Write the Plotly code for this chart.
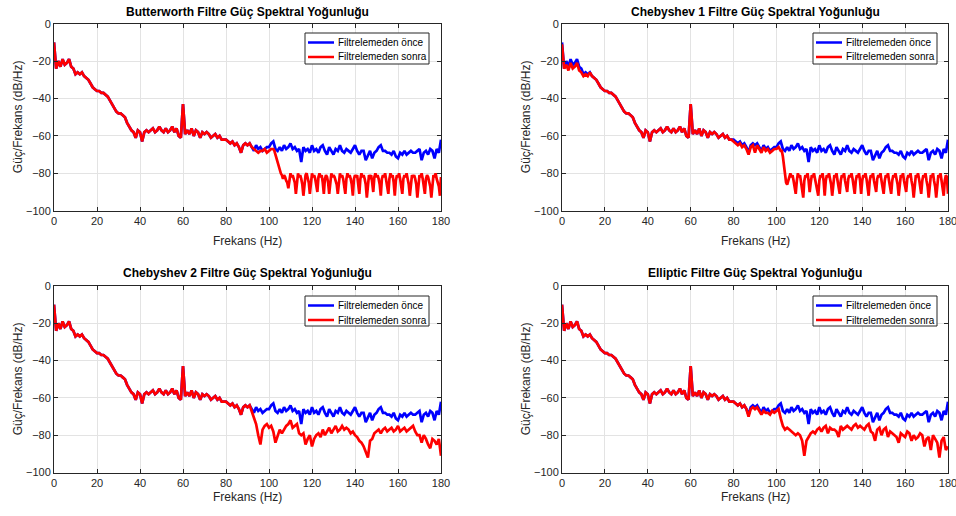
import numpy as np
import plotly.graph_objects as go

# ---------------- data ----------------
freq = list(range(0, 181))  # Hz, 1 Hz grid

psd_before = [
    -10, -24, -20, -23, -19, -22, -21, -19, -23, -24,
    -27, -26, -27, -26, -28, -29, -30, -32, -34, -35,
    -36, -36, -37, -37, -38, -39, -41, -43, -45, -47,
    -48, -48, -49, -50, -53, -55, -57, -58, -61, -57,
    -58, -63, -58, -57, -58, -57, -56, -58, -57, -55,
    -57, -58, -56, -58, -57, -55, -58, -56, -60, -61,
    -43, -59, -57, -59, -56, -60, -57, -58, -61, -58,
    -59, -58, -59, -61, -60, -59, -61, -60, -62, -62,
    -62, -63, -64, -63, -65, -64, -66, -69, -65, -64,
    -65, -64, -66, -68, -65, -67, -66, -68, -67, -66,
    -66, -64, -63, -67, -68, -66, -68, -65, -67, -66,
    -64, -67, -66, -68, -67, -74, -66, -68, -67, -69,
    -65, -68, -67, -69, -66, -65, -68, -70, -66, -68,
    -70, -67, -68, -65, -68, -69, -67, -68, -69, -67,
    -65, -68, -70, -68, -68, -73, -70, -68, -72, -69,
    -68, -66, -65, -68, -68, -69, -69, -70, -68, -71,
    -72, -69, -70, -68, -70, -69, -68, -69, -69, -68,
    -67, -73, -69, -68, -70, -67, -68, -72, -67, -69, -62,
]

# Butterworth: after filtering, 93..102 Hz (1 Hz) then 102.5..180 Hz (0.5 Hz)
butter_mid = [-67, -68, -69, -68, -68, -67, -69, -68, -67, -67]
butter_stop = [
    -68, -70, -72, -75, -77, -79, -80, -81, -83, -81, -82, -84, -85,
    -88, -83, -80, -82, -81, -83, -85,
    -91, -83, -80, -82, -81, -83, -86,
    -92, -84, -81, -80, -83, -85,
    -91, -83, -80, -82, -81, -83, -86,
    -90, -82, -80, -82, -81, -85,
    -91, -83, -81, -82, -85,
    -91, -83, -80, -82, -81, -82, -84, -86,
    -91, -83, -80, -82, -81, -83, -86,
    -91, -83, -80, -82, -81, -83, -86,
    -92, -83, -81, -82, -81, -85,
    -91, -83, -80, -82, -81, -83, -86,
    -93, -84, -81, -82, -81, -85,
    -90, -82, -80, -82, -81, -83, -86,
    -92, -83, -81, -82, -80, -83, -86,
    -91, -83, -80, -82, -81, -85,
    -92, -84, -81, -82, -80, -83, -86,
    -91, -83, -81, -82, -80, -83, -86,
    -92, -84, -81, -82, -81, -83, -86,
    -93, -84, -81, -82, -80, -83, -86,
    -91, -83, -81, -82, -84, -87,
    -93, -84, -81, -82, -80, -83, -85, -87,
    -92, -82,
]

# Chebyshev 1: after filtering
cheby1_low = [-11, -24, -22, -25, -21, -24, -23, -21, -25, -26, -28, -27, -28]   # 0..12 Hz
cheby1_mid = [-63, -64, -65, -64, -66, -65, -67, -70, -66, -65, -69, -65,
              -67, -69, -66, -68, -67, -69, -68, -67, -67, -66, -68]              # 80..102 Hz
cheby1_stop = [                                                                  # 102.5..180 Hz
    -68, -71, -75, -80, -85, -86, -84, -81, -80, -82, -81, -84, -87,
    -91, -84, -80, -82, -81, -85, -88,
    -93, -84, -81, -82, -80, -84,
    -90, -85, -81, -82, -80, -83, -86, -89,
    -92, -84, -81, -82, -80, -84,
    -92, -84, -81, -82, -80, -83, -86,
    -92, -84, -81, -82, -80, -84, -87,
    -91, -84, -81, -82, -80, -84, -87,
    -90, -83, -81, -82, -80, -83, -86,
    -91, -84, -81, -82, -80, -84,
    -91, -84, -81, -82, -80, -83, -87,
    -92, -84, -81, -82, -80, -84, -87,
    -90, -83, -81, -82, -80, -84, -87,
    -91, -84, -81, -82, -80, -84, -87,
    -91, -84, -81, -82, -80, -83, -86,
    -92, -84, -81, -82, -80, -84, -87,
    -90, -83, -81, -82, -80, -84, -87,
    -93, -84, -81, -82, -80, -83, -87,
    -91, -84, -81, -82, -80, -84, -87,
    -93, -84, -81, -82, -80, -84, -87,
    -93, -84, -81, -82, -80, -84, -87,
    -92, -84, -81, -82, -91,
]

# Chebyshev 2: after filtering, 92..180 Hz (1 Hz)
cheby2_stop = [
    -67, -70, -74, -80, -85, -77, -75, -74, -76, -75,
    -78, -84, -80, -77, -79, -77, -75, -74, -72, -76,
    -75, -74, -79, -80, -79, -85, -82, -80, -86, -82,
    -80, -79, -81, -77, -80, -78, -76, -79, -77, -75,
    -78, -77, -75, -77, -76, -77, -79, -78, -80, -81,
    -83, -84, -86, -89, -92, -83, -82, -79, -78, -77,
    -79, -77, -76, -78, -77, -76, -78, -77, -75, -78,
    -77, -76, -78, -77, -76, -75, -78, -80, -80, -84,
    -80, -82, -85, -87, -82, -83, -85, -82, -91,
]

# Elliptic: after filtering, 87..100 Hz then 101..180 Hz (1 Hz)
ellip_mid = [-70, -66, -65, -66, -65, -67, -69, -67, -68, -68, -69, -67, -68, -67]
ellip_stop = [
    -66, -71, -75, -77, -76, -77, -78, -79, -80, -79,
    -80, -83, -91, -83, -81, -79, -78, -79, -77, -76,
    -78, -76, -75, -79, -76, -77, -77, -78, -81, -75,
    -77, -76, -75, -76, -77, -75, -74, -76, -75, -76,
    -77, -75, -74, -78, -79, -83, -77, -76, -80, -77,
    -76, -81, -78, -79, -80, -81, -84, -79, -80, -81,
    -78, -79, -83, -80, -82, -81, -79, -80, -86, -82,
    -81, -88, -80, -82, -84, -92, -83, -81, -88, -86,
]

titles = [
    "Butterworth Filtre Güç Spektral Yoğunluğu",
    "Chebyshev 1 Filtre Güç Spektral Yoğunluğu",
    "Chebyshev 2 Filtre Güç Spektral Yoğunluğu",
    "Elliptic Filtre Güç Spektral Yoğunluğu",
]
legend_labels = ["Filtrelemeden önce", "Filtrelemeden sonra"]
x_label = "Frekans (Hz)"
y_label = "Güç/Frekans (dB/Hz)"

# ---------------- assemble the "after" series ----------------
def grid(a, b, n):
    return list(np.linspace(a, b, n))

butter_x = freq[:93] + list(range(93, 103)) + grid(102.5, 180, len(butter_stop))
butter_y = psd_before[:93] + butter_mid + butter_stop

cheby1_x = (list(range(0, 13)) + freq[13:80] + list(range(80, 103))
            + grid(102.5, 180, len(cheby1_stop)))
cheby1_y = cheby1_low + psd_before[13:80] + cheby1_mid + cheby1_stop

cheby2_x = freq[:92] + grid(92, 180, len(cheby2_stop))
cheby2_y = psd_before[:92] + cheby2_stop

ellip_x = freq[:87] + list(range(87, 101)) + grid(101, 180, len(ellip_stop))
ellip_y = psd_before[:87] + ellip_mid + ellip_stop

after_series = [(butter_x, butter_y), (cheby1_x, cheby1_y),
                (cheby2_x, cheby2_y), (ellip_x, ellip_y)]

# ---------------- layout geometry ----------------
W, H = 956, 516
xdoms = [[54 / W, 441 / W], [562 / W, 948 / W]]
ydoms = [[1 - 210.7 / H, 1 - 23.7 / H], [1 - 472.5 / H, 1 - 286 / H]]
title_y = [12, 273]
xlab_y = [241, 497]
ylab_x = [18, 526]
leg_box_x = [[305, 429], [813, 937]]
leg_box_y = [[33, 64], [296, 326]]

AX = "#262626"
FONT = "Arial, Liberation Sans, Helvetica, sans-serif"
BLUE, RED = "#0000FF", "#FF0000"
LW = 2.7

fig = go.Figure()
layout = dict(
    width=W, height=H, margin=dict(l=0, r=0, t=0, b=0),
    paper_bgcolor="white", plot_bgcolor="white", showlegend=False,
    font=dict(family=FONT, color=AX), annotations=[], shapes=[],
)

def px(x):
    return x / W

def py(y):
    return 1 - y / H

for i in range(4):
    row, col = divmod(i, 2)
    n = "" if i == 0 else str(i + 1)
    xa, ya = "x" + n, "y" + n
    fig.add_trace(go.Scatter(x=freq, y=psd_before, mode="lines", name=legend_labels[0],
                             line=dict(color=BLUE, width=LW), xaxis=xa, yaxis=ya))
    ax_x, ax_y = after_series[i]
    fig.add_trace(go.Scatter(x=ax_x, y=ax_y, mode="lines", name=legend_labels[1],
                             line=dict(color=RED, width=LW), xaxis=xa, yaxis=ya))
    common = dict(showgrid=True, gridcolor="#e3e3e3", gridwidth=1, zeroline=False,
                  showline=True, linecolor=AX, linewidth=1, mirror="ticks",
                  ticks="inside", ticklen=4, tickcolor=AX, ticklabeloverflow="allow",
                  tickfont=dict(size=11, color=AX, family=FONT), automargin=False)
    layout["xaxis" + n] = dict(common, domain=xdoms[col], anchor=ya, range=[0, 180],
                               tick0=0, dtick=20)
    layout["yaxis" + n] = dict(common, domain=ydoms[row], anchor=xa, range=[-100, 0],
                               tick0=0, dtick=20)
    cx = (xdoms[col][0] + xdoms[col][1]) / 2
    cy = (ydoms[row][0] + ydoms[row][1]) / 2
    layout["annotations"] += [
        dict(text=titles[i], x=cx, y=py(title_y[row]), xref="paper", yref="paper",
             showarrow=False, xanchor="center", yanchor="middle",
             font=dict(size=12, color="black", family=FONT, weight="bold")),
        dict(text=x_label, x=cx, y=py(xlab_y[row]), xref="paper", yref="paper",
             showarrow=False, xanchor="center", yanchor="middle",
             font=dict(size=12, color=AX, family=FONT)),
        dict(text=y_label, x=px(ylab_x[col]), y=cy, xref="paper", yref="paper",
             showarrow=False, xanchor="center", yanchor="middle", textangle=-90,
             font=dict(size=12, color=AX, family=FONT)),
    ]
    # legend box (drawn manually for MATLAB-like compactness)
    bx0, bx1 = leg_box_x[col]
    by0, by1 = leg_box_y[row]
    layout["shapes"].append(dict(type="rect", xref="paper", yref="paper",
                                 x0=px(bx0), x1=px(bx1), y0=py(by1), y1=py(by0),
                                 fillcolor="white", line=dict(color=AX, width=1),
                                 layer="above"))
    for k, (lab, colr) in enumerate(zip(legend_labels, [BLUE, RED])):
        ly = by0 + 9.5 + k * 14.5
        layout["shapes"].append(dict(type="line", xref="paper", yref="paper",
                                     x0=px(bx0 + 3), x1=px(bx0 + 29), y0=py(ly), y1=py(ly),
                                     line=dict(color=colr, width=2.5), layer="above"))
        layout["annotations"].append(dict(text=lab, x=px(bx0 + 31), y=py(ly),
                                          xref="paper", yref="paper", showarrow=False,
                                          xanchor="left", yanchor="middle",
                                          font=dict(size=10, color="black", family=FONT)))

fig.update_layout(**layout)
fig.write_html("out.html", config={"displayModeBar": False},
               post_script="document.body.style.margin='0';"
                           "document.body.style.overflow='hidden';")
